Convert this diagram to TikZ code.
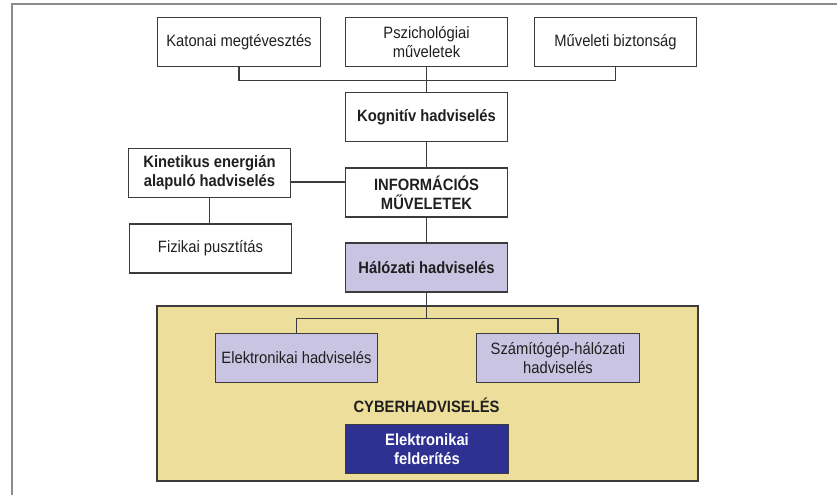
\documentclass[tikz,border=0pt]{standalone}
\usepackage{fontspec}
\setmainfont{Liberation Sans}[FakeStretch=0.9]
\usetikzlibrary{positioning,calc}

\definecolor{boxline}{HTML}{3C3C3E}
\definecolor{lilac}{HTML}{C8C4E1}
\definecolor{sand}{HTML}{EEDE9B}
\definecolor{navy}{HTML}{2E3192}
\definecolor{framegray}{HTML}{8C8C8C}

\tikzset{
  every box/.style={rectangle, draw=boxline, line width=1pt, minimum width=4.88cm,
    minimum height=1.47cm, align=center, inner sep=2pt, text=black!88,
    font=\fontsize{14}{16.5}\selectfont},
  box bold/.style={font=\fontsize{14}{16.5}\selectfont\bfseries},
  box lilac/.style={fill=lilac},
  box navy/.style={fill=navy, text=white},
  link/.style={draw=boxline, line width=1pt}
}

\begin{document}
\begin{tikzpicture}[x=0.03cm, y=-0.03cm]

\useasboundingbox (0,0) rectangle (837,495);

% outer frame
\draw [framegray, line width=1.1pt] (12,495) -- (12,4) -- (837,4);

% cyber area
\node [rectangle, draw=boxline, line width=1pt, fill=sand, minimum width=16.23cm,
  minimum height=5.25cm] (cyber) at (427.5,393.5) {};

% top row
\foreach \t/\x [count=\i] in {Katonai megtévesztés/239, Pszichológiai\\műveletek/426.5, Műveleti biztonság/615.5}
  \node [every box/.try] (top-\i) at (\x,42) {\t};

\node [every box/.try, box bold/.try] (kognitiv) at (426.5,117) {Kognitív hadviselés};
\node [every box/.try, box bold/.try] (info) at (426.5,192.5) {INFORMÁCIÓS\\MŰVELETEK};
\node [every box/.try, box bold/.try, box lilac/.try] (halozati) at (426.5,267.5) {Hálózati hadviselés};

\node [every box/.try, box bold/.try] (kinetikus) at (209.5,173) {Kinetikus energián\\alapuló hadviselés};
\node [every box/.try] (fizikai) at (210.5,248.5) {Fizikai pusztítás};

\foreach \t/\x [count=\i] in {Elektronikai hadviselés/296.5, Számítógép-hálózati\\hadviselés/558}
  \node [every box/.try, box lilac/.try] (sub-\i) at (\x,358) {\t};

\node [font=\fontsize{14}{16.5}\selectfont\bfseries, text=black!88] (cyber-label) at (426.5,405) {CYBERHADVISELÉS};
\node [every box/.try, box bold/.try, box navy/.try] (felderites) at (427,449) {Elektronikai\\felderítés};

% connectors
\draw [link] (top-1.south) -- ++(0,13) -| (top-3.south);
\draw [link] (top-2.south) -- (kognitiv.north);
\draw [link] (kognitiv.south) -- (info.north);
\draw [link] (info.south) -- (halozati.north);
\draw [link] ([yshift=-0.27cm]kinetikus.east) coordinate (kin-out) -- (info.west |- kin-out);
\draw [link] (kinetikus.south) -- (kinetikus.south |- fizikai.north);
\draw [link] (halozati.south) -- ++(0,26) coordinate (split);
\draw [link] (sub-1.north) |- (split) -| (sub-2.north);

\end{tikzpicture}
\end{document}
